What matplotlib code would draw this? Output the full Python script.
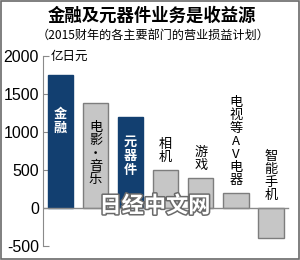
import matplotlib
matplotlib.use("Agg")
import matplotlib.pyplot as plt
import matplotlib.patheffects as pe
from matplotlib.patches import Rectangle

plt.rcParams['font.family'] = ['Noto Sans CJK SC', 'DejaVu Sans']

categories = ["金融", "电影·音乐", "元器件", "相机", "游戏", "电视等AV电器", "智能手机"]
values = [1750, 1380, 1200, 500, 400, 200, -400]
highlight = [True, False, True, False, False, False, False]
yticks = [-500, 0, 500, 1000, 1500, 2000]

NAVY = "#123f70"
GRAY = "#c6c6c6"
EDGE = "#7d7d7d"

fig = plt.figure(figsize=(3.0, 2.6), dpi=100)
ax = fig.add_axes([43 / 300, 14 / 260, 249 / 300, 190 / 260])

x = range(len(values))
colors = [NAVY if h else GRAY for h in highlight]
edges = [NAVY if h else EDGE for h in highlight]
ax.bar(x, values, width=0.72, color=colors, edgecolor=edges, linewidth=1.0, zorder=2)
ax.axhline(0, xmin=0, xmax=0.985, color="#8a8a8a", lw=1.0, zorder=3)

ax.set_xlim(-0.5, 6.6)
ax.set_ylim(-500, 2000)
ax.set_yticks(yticks)
ax.set_yticklabels([str(t) for t in yticks], family="Liberation Sans", fontsize=11.5)
ax.tick_params(axis="y", direction="in", length=4, color="#8a8a8a", pad=3)
ax.tick_params(axis="x", bottom=False, labelbottom=False)
for s in ["top", "right", "bottom"]:
    ax.spines[s].set_visible(False)
ax.spines["left"].set_color("#8a8a8a")
ax.patch.set_alpha(0)

# vertical stacked labels: first three inside the bars, the rest above
for i, (cat, v, h) in enumerate(zip(categories, values, highlight)):
    txt = "\n".join(cat)
    if i < 3:
        ax.text(i, v - 240 - (i == 0) * 180, txt, ha="center", va="top",
                color="white" if h else "black", fontsize=9.5,
                linespacing=1.0, fontweight="bold" if h else "normal", zorder=4)
    else:
        ax.text(i, max(v, 0) + 80, txt, ha="center", va="bottom",
                color="black", fontsize=9.5, linespacing=1.0, zorder=4)

ax.text(0.03, 2000, "亿日元", ha="left", va="center", fontsize=9,
        transform=ax.get_yaxis_transform())

fig.text(0.505, 0.94, "金融及元器件业务是收益源", ha="center", va="center",
         fontsize=12.5, fontweight="bold")
fig.text(0.51, 0.865, "（2015财年的各主要部门的营业损益计划）", ha="center", va="center",
         fontsize=8.7)

# watermark
fig.text(155 / 300, 1 - 206 / 260, "日经中文网", ha="center", va="center",
         fontsize=16, color="white", fontweight="bold", zorder=10,
         path_effects=[pe.withStroke(linewidth=2.2, foreground="#6a6a6a")])

fig.patches.append(Rectangle((0.002, 0.004), 0.994, 0.994, transform=fig.transFigure,
                             fill=False, edgecolor="#6a6a6a", lw=1.2))

fig.savefig("out.png", dpi=100)
